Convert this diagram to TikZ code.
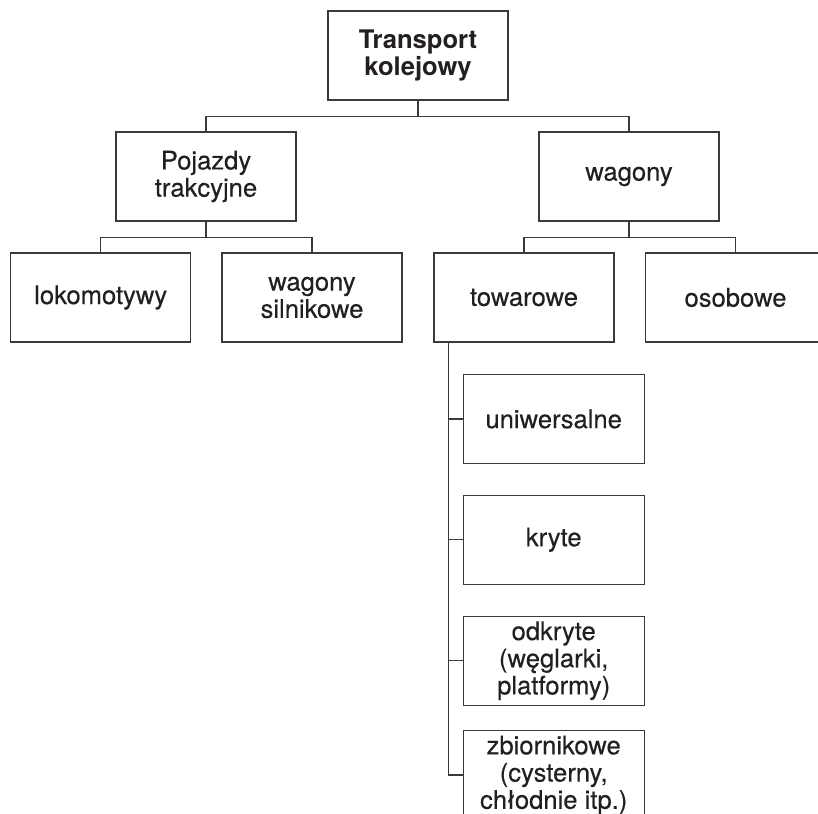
\documentclass[tikz,border=0pt]{standalone}
\usepackage{fontspec}
\setmainfont{TeX Gyre Heros}
\newfontfamily\medfont[FakeBold=0.3]{TeX Gyre Heros}
\usepackage{xcolor}
\usepackage{tikz}
\usetikzlibrary{positioning}
\definecolor{linex}{HTML}{3A3A3A}
\definecolor{inkx}{HTML}{231F20}
\tikzset{
  box/.style={draw=linex,line width=0.6pt,minimum width=90pt,minimum height=44.5pt,align=center,inner sep=2pt,text=inkx,font=\medfont\fontsize{12.8}{13.6}\selectfont},
  hd/.style={box,font=\fontsize{12.8}{13.6}\selectfont\bfseries},
  ln/.style={linex,line width=0.6pt}
}
\begin{document}
\begin{tikzpicture}[x=0.5pt,y=-0.5pt]
\path[use as bounding box,clip] (0,0) rectangle (818,813);
% top level
\node[hd] (top) at (418,55.5) {Transport\\kolejowy};
\node[box] (poj) at (206,176.5) {Pojazdy\\trakcyjne};
\node[box] (wag) at (629,176.5) {wagony};
% second level
\node[box] (lok) at (100.7,297.5) {lokomotywy};
\node[box] (sil) at (312,297.5) {wagony\\silnikowe};
\node[box] (tow) at (524,297.5) {towarowe};
\node[box] (oso) at (735.5,297.5) {osobowe};
% freight wagons
\node[box,minimum width=90.4pt] (uni) at (553.7,419) {uniwersalne};
\node[box,minimum width=90.4pt] (kry) at (553.7,539.7) {kryte};
\node[box,minimum width=90.4pt] (odk) at (553.7,660.7) {odkryte\\(węglarki,\\platformy)};
\node[box,minimum width=90.4pt] (zbi) at (553.7,775) {zbiornikowe\\(cysterny,\\chłodnie itp.)};
% connectors
\draw[ln] (top.south) -- ++(0,15.5) -| (poj.north);
\draw[ln] (top.south) -- ++(0,15.5) -| (wag.north);
\draw[ln] (poj.south) -- ++(0,15.5) -| (lok.north);
\draw[ln] (poj.south) -- ++(0,15.5) -| (sil.north);
\draw[ln] (wag.south) -- ++(0,15.5) -| (tow.north);
\draw[ln] (wag.south) -- ++(0,15.5) -| (oso.north);
\coordinate (trunk) at (448.3,342);
\foreach \n in {uni,kry,odk,zbi}
  \draw[ln] (trunk) |- (\n.west);
\end{tikzpicture}
\end{document}
